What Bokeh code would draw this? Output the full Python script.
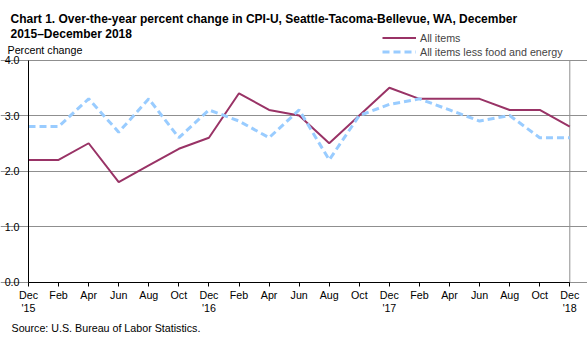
from bokeh.plotting import figure
from bokeh.models import Label, Range1d, FixedTicker, Legend, LegendItem
from bokeh.embed import file_html
from bokeh.resources import INLINE

months = ["Dec\n'15", "Feb", "Apr", "Jun", "Aug", "Oct", "Dec\n'16", "Feb", "Apr", "Jun", "Aug", "Oct",
          "Dec\n'17", "Feb", "Apr", "Jun", "Aug", "Oct", "Dec\n'18"]
all_items = [2.2, 2.2, 2.5, 1.8, 2.1, 2.4, 2.6, 3.4, 3.1, 3.0, 2.5, 3.0, 3.5, 3.3, 3.3, 3.3, 3.1, 3.1, 2.8]
core_items = [2.8, 2.8, 3.3, 2.7, 3.3, 2.6, 3.1, 2.9, 2.6, 3.1, 2.2, 3.0, 3.2, 3.3, 3.1, 2.9, 3.0, 2.6, 2.6]
y_ticks = [0, 1, 2, 3, 4]

W, H = 587, 337
FONT = "Liberation Sans"
xs = list(range(len(months)))
X_MAX = xs[-1]
Y_MAX = y_ticks[-1]

# pixel geometry of the plotting area inside the canvas (frame spans whole canvas)
PX_LEFT, PX_RIGHT = 28.0, 569.3
PX_TOP, PX_BOTTOM = 59.5, 281.5
sx = (PX_RIGHT - PX_LEFT) / X_MAX
sy = (PX_BOTTOM - PX_TOP) / Y_MAX
x_range = Range1d(-PX_LEFT / sx, X_MAX + (W - PX_RIGHT) / sx)
y_range = Range1d(-(H - PX_BOTTOM) / sy, Y_MAX + PX_TOP / sy)

p = figure(width=W, height=H, output_backend="svg", toolbar_location=None,
           x_range=x_range, y_range=y_range,
           min_border_left=0, min_border_right=0, min_border_top=0, min_border_bottom=0)
p.background_fill_color = "white"
p.border_fill_color = "white"
p.outline_line_color = None

GRID = "#8F8F8F"
p.xgrid.visible = False
p.ygrid.ticker = FixedTicker(ticks=y_ticks)
p.ygrid.grid_line_color = GRID
p.ygrid.bounds = (0, X_MAX)

p.xaxis.fixed_location = 0
p.xaxis.bounds = (0, X_MAX)
p.xaxis.ticker = FixedTicker(ticks=xs)
p.xaxis.major_label_overrides = {i: m for i, m in enumerate(months)}
p.xaxis.major_tick_in = 0
p.xaxis.major_tick_out = 4
p.xaxis.minor_tick_line_color = None
p.xaxis.axis_line_color = "black"
p.xaxis.major_tick_line_color = "black"
p.xaxis.major_label_text_font = FONT
p.xaxis.major_label_text_font_size = "10.7px"
p.xaxis.major_label_text_line_height = 1.12
p.xaxis.major_label_text_color = "black"
p.xaxis.major_label_standoff = 3

p.yaxis.fixed_location = 0
p.yaxis.bounds = (0, Y_MAX)
p.yaxis.ticker = FixedTicker(ticks=y_ticks)
p.yaxis.major_label_overrides = {t: f"{t:.1f}" for t in y_ticks}
p.yaxis.major_tick_in = 0
p.yaxis.major_tick_out = 0
p.yaxis.major_tick_line_color = None
p.yaxis.minor_tick_line_color = None
p.yaxis.axis_line_color = "black"
p.yaxis.major_label_text_font = FONT
p.yaxis.major_label_text_font_size = "10.7px"
p.yaxis.major_label_text_color = "black"
p.yaxis.major_label_standoff = 9

# right border of the plotting area
p.segment(x0=[X_MAX], y0=[0], x1=[X_MAX], y1=[Y_MAX], line_color=GRID, line_width=1)

r1 = p.line(xs, all_items, line_color="#993366", line_width=2)
r2 = p.line(xs, core_items, line_color="#99CCFF", line_width=3, line_dash="7 4")

legend = Legend(items=[LegendItem(label="All items", renderers=[r1]),
                       LegendItem(label="All items less food and energy", renderers=[r2])],
                location=(382, H - 57.5), orientation="vertical", border_line_color=None,
                background_fill_alpha=0, label_text_font=FONT, label_text_font_size="10.7px",
                glyph_width=34, glyph_height=11, label_height=11, spacing=2, padding=0, margin=0,
                label_standoff=4)
p.add_layout(legend, "center")

def add_text(x, baseline_from_top, text, size, bold=False):
    p.add_layout(Label(x=x, y=H - baseline_from_top, x_units="screen", y_units="screen",
                       text_baseline="alphabetic", text=text, text_font=FONT,
                       text_font_size=size, text_font_style="bold" if bold else "normal",
                       text_color="black"))

add_text(10, 18, "Chart 1. Over-the-year percent change in CPI-U, Seattle-Tacoma-Bellevue, WA, December", "12px", True)
add_text(10, 33, "2015\u2013December 2018", "12px", True)
add_text(7, 49, "Percent change", "10.7px")
add_text(11, 327, "Source: U.S. Bureau of Labor Statistics.", "10.7px")

open("out.html", "w").write(file_html(p, INLINE))
